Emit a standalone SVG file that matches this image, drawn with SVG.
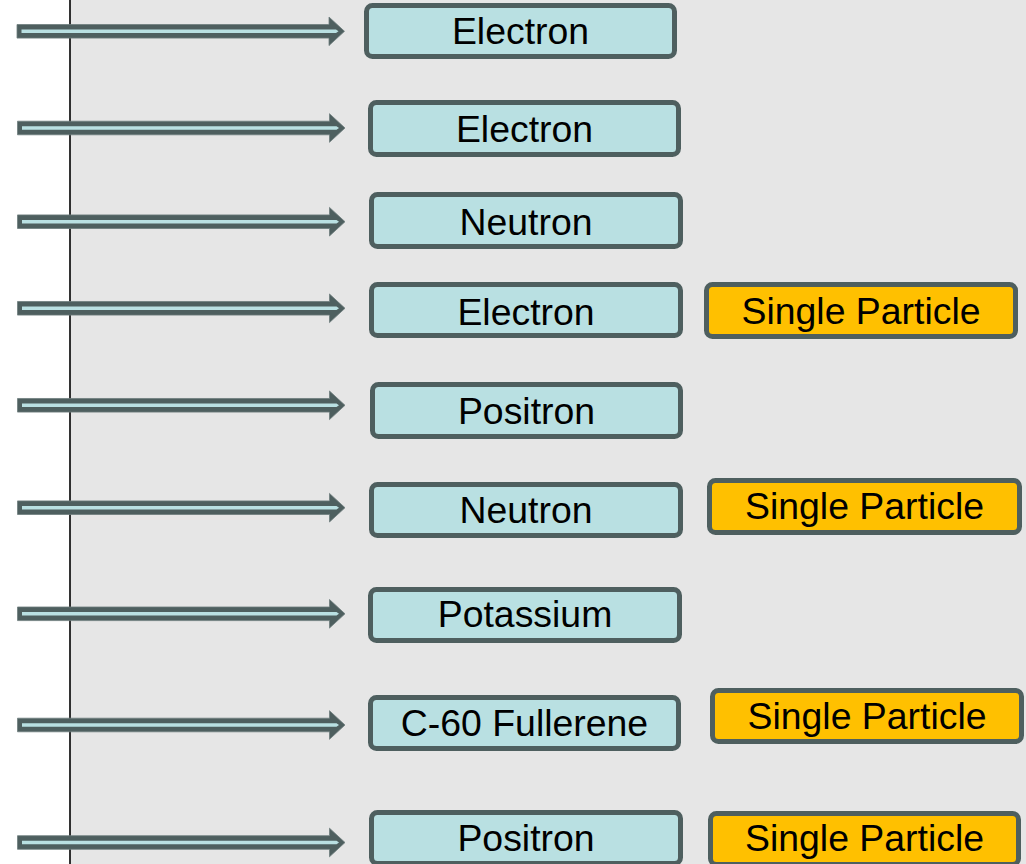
<svg xmlns="http://www.w3.org/2000/svg" width="1026" height="864" viewBox="0 0 1026 864">
<defs>
<style>
.box{fill:#b9e0e2;stroke:#4e5f5f;stroke-width:5}
.sp{fill:#ffc000;stroke:#4e5f5f;stroke-width:5}
.t{font-family:"Liberation Sans",Arial,sans-serif;font-size:37.4px;fill:#000;text-anchor:middle}
.ah{fill:#4e5f5f;stroke:#6f7e7e;stroke-width:0.8}
.al{fill:#b9e0e2}
</style>
<g id="arrow">
<path class="ah" d="M17,-6.8 H329 V-14.3 L344.5,0 L329,14.3 V6.8 H17 Z"/>
<path class="al" d="M21.5,-1.8 H336 L338.5,0 L336,1.8 H21.5 Z"/>
</g>
</defs>
<rect x="0" y="0" width="1026" height="864" fill="#ffffff"/>
<rect x="70" y="0" width="956" height="864" fill="#e6e6e6"/>
<line x1="70" y1="0" x2="70" y2="864" stroke="#000" stroke-width="1.6"/>
<g id="connectors">
<use href="#arrow" transform="translate(0,31.3)"/>
<use href="#arrow" transform="translate(0.5,128)"/>
<use href="#arrow" transform="translate(0.5,221.7)"/>
<use href="#arrow" transform="translate(0.5,308.3)"/>
<use href="#arrow" transform="translate(0.5,405.3)"/>
<use href="#arrow" transform="translate(0.5,507.7)"/>
<use href="#arrow" transform="translate(0.5,613.8)"/>
<use href="#arrow" transform="translate(0.5,725)"/>
<use href="#arrow" transform="translate(0.5,842.5)"/>
</g>
<g id="n1"><rect class="box" x="366.5" y="5.5" width="308" height="51" rx="6"/><text class="t" x="520.5" y="44">Electron</text></g>
<g id="n2"><rect class="box" x="370.5" y="102.5" width="308" height="52" rx="6"/><text class="t" x="524.5" y="142">Electron</text></g>
<g id="n3"><rect class="box" x="371.5" y="194.5" width="309" height="52" rx="6"/><text class="t" x="526" y="234.5">Neutron</text></g>
<g id="n4"><rect class="box" x="371.5" y="284.5" width="309" height="51" rx="6"/><text class="t" x="526" y="325">Electron</text></g>
<g id="n5"><rect class="box" x="372.5" y="384.5" width="308" height="52" rx="6"/><text class="t" x="526.5" y="424">Positron</text></g>
<g id="n6"><rect class="box" x="371.5" y="484.5" width="309" height="51" rx="6"/><text class="t" x="526" y="523">Neutron</text></g>
<g id="n7"><rect class="box" x="370.5" y="589.5" width="309" height="51" rx="6"/><text class="t" x="525" y="627">Potassium</text></g>
<g id="n8"><rect class="box" x="370.5" y="697.5" width="308" height="51" rx="6"/><text class="t" x="524.5" y="736">C-60 Fullerene</text></g>
<g id="n9"><rect class="box" x="371.5" y="812.5" width="309" height="51" rx="6"/><text class="t" x="526" y="851">Positron</text></g>
<g id="s4"><rect class="sp" x="706.5" y="284.5" width="309" height="52" rx="6"/><text class="t" x="861" y="323.5">Single Particle</text></g>
<g id="s6"><rect class="sp" x="709.5" y="480.5" width="310" height="52" rx="6"/><text class="t" x="864.5" y="519">Single Particle</text></g>
<g id="s8"><rect class="sp" x="712.5" y="690.5" width="309" height="51" rx="6"/><text class="t" x="867" y="729">Single Particle</text></g>
<g id="s9"><rect class="sp" x="710.5" y="813.5" width="308" height="51" rx="6"/><text class="t" x="864.5" y="851">Single Particle</text></g>
</svg>
